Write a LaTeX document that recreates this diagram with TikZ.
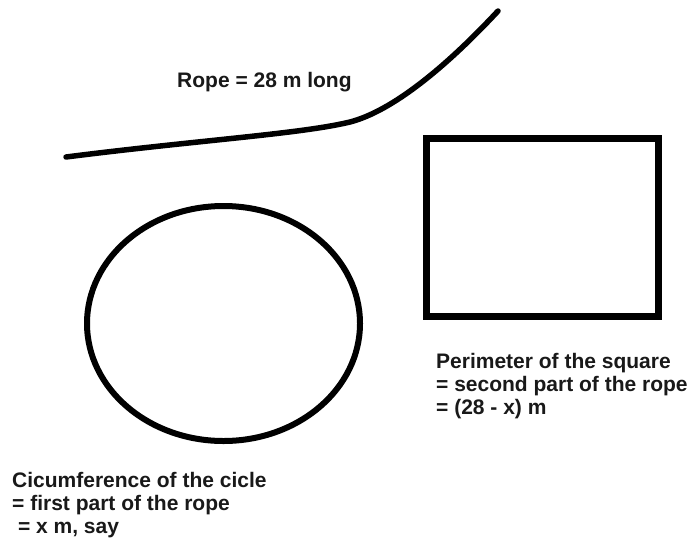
\documentclass[tikz,border=0pt]{standalone}
\usepackage{fontspec}
\setmainfont{Liberation Sans}
\tikzset{
  shape line/.style={line width=6pt, black},
  rope line/.style={line width=5.5pt, black, line cap=round},
  label text/.style={inner sep=0pt, anchor=base west, font=\bfseries\fontsize{21}{23}\selectfont, text=black!90}
}
\begin{document}
\begin{tikzpicture}[x=1pt,y=-1pt]
\useasboundingbox[fill=white] (0,0) rectangle (693,539);
% rope
\draw[rope line] (66,157) .. controls (200,140) and (300,134) .. (350,122)
  .. controls (392,111) and (445,68) .. (498,11);
% circle
\draw[shape line] (223.5,323.5) ellipse [x radius=136.5, y radius=117.5];
% square
\draw[line width=7pt, black] (426.5,138.5) rectangle (658.5,316.5);
% texts
\node[label text] (rope) at (177,87) {Rope = 28 m long};
\node[label text] (sq) at (436,368) {\begin{tabular}[t]{@{}l@{}}Perimeter of the square\\= second part of the rope\\= (28 - x) m\end{tabular}};
\node[label text] (ci) at (12,487) {\begin{tabular}[t]{@{}l@{}}Cicumference of the cicle\\= first part of the rope\\\ = x m, say\end{tabular}};
\end{tikzpicture}
\end{document}
